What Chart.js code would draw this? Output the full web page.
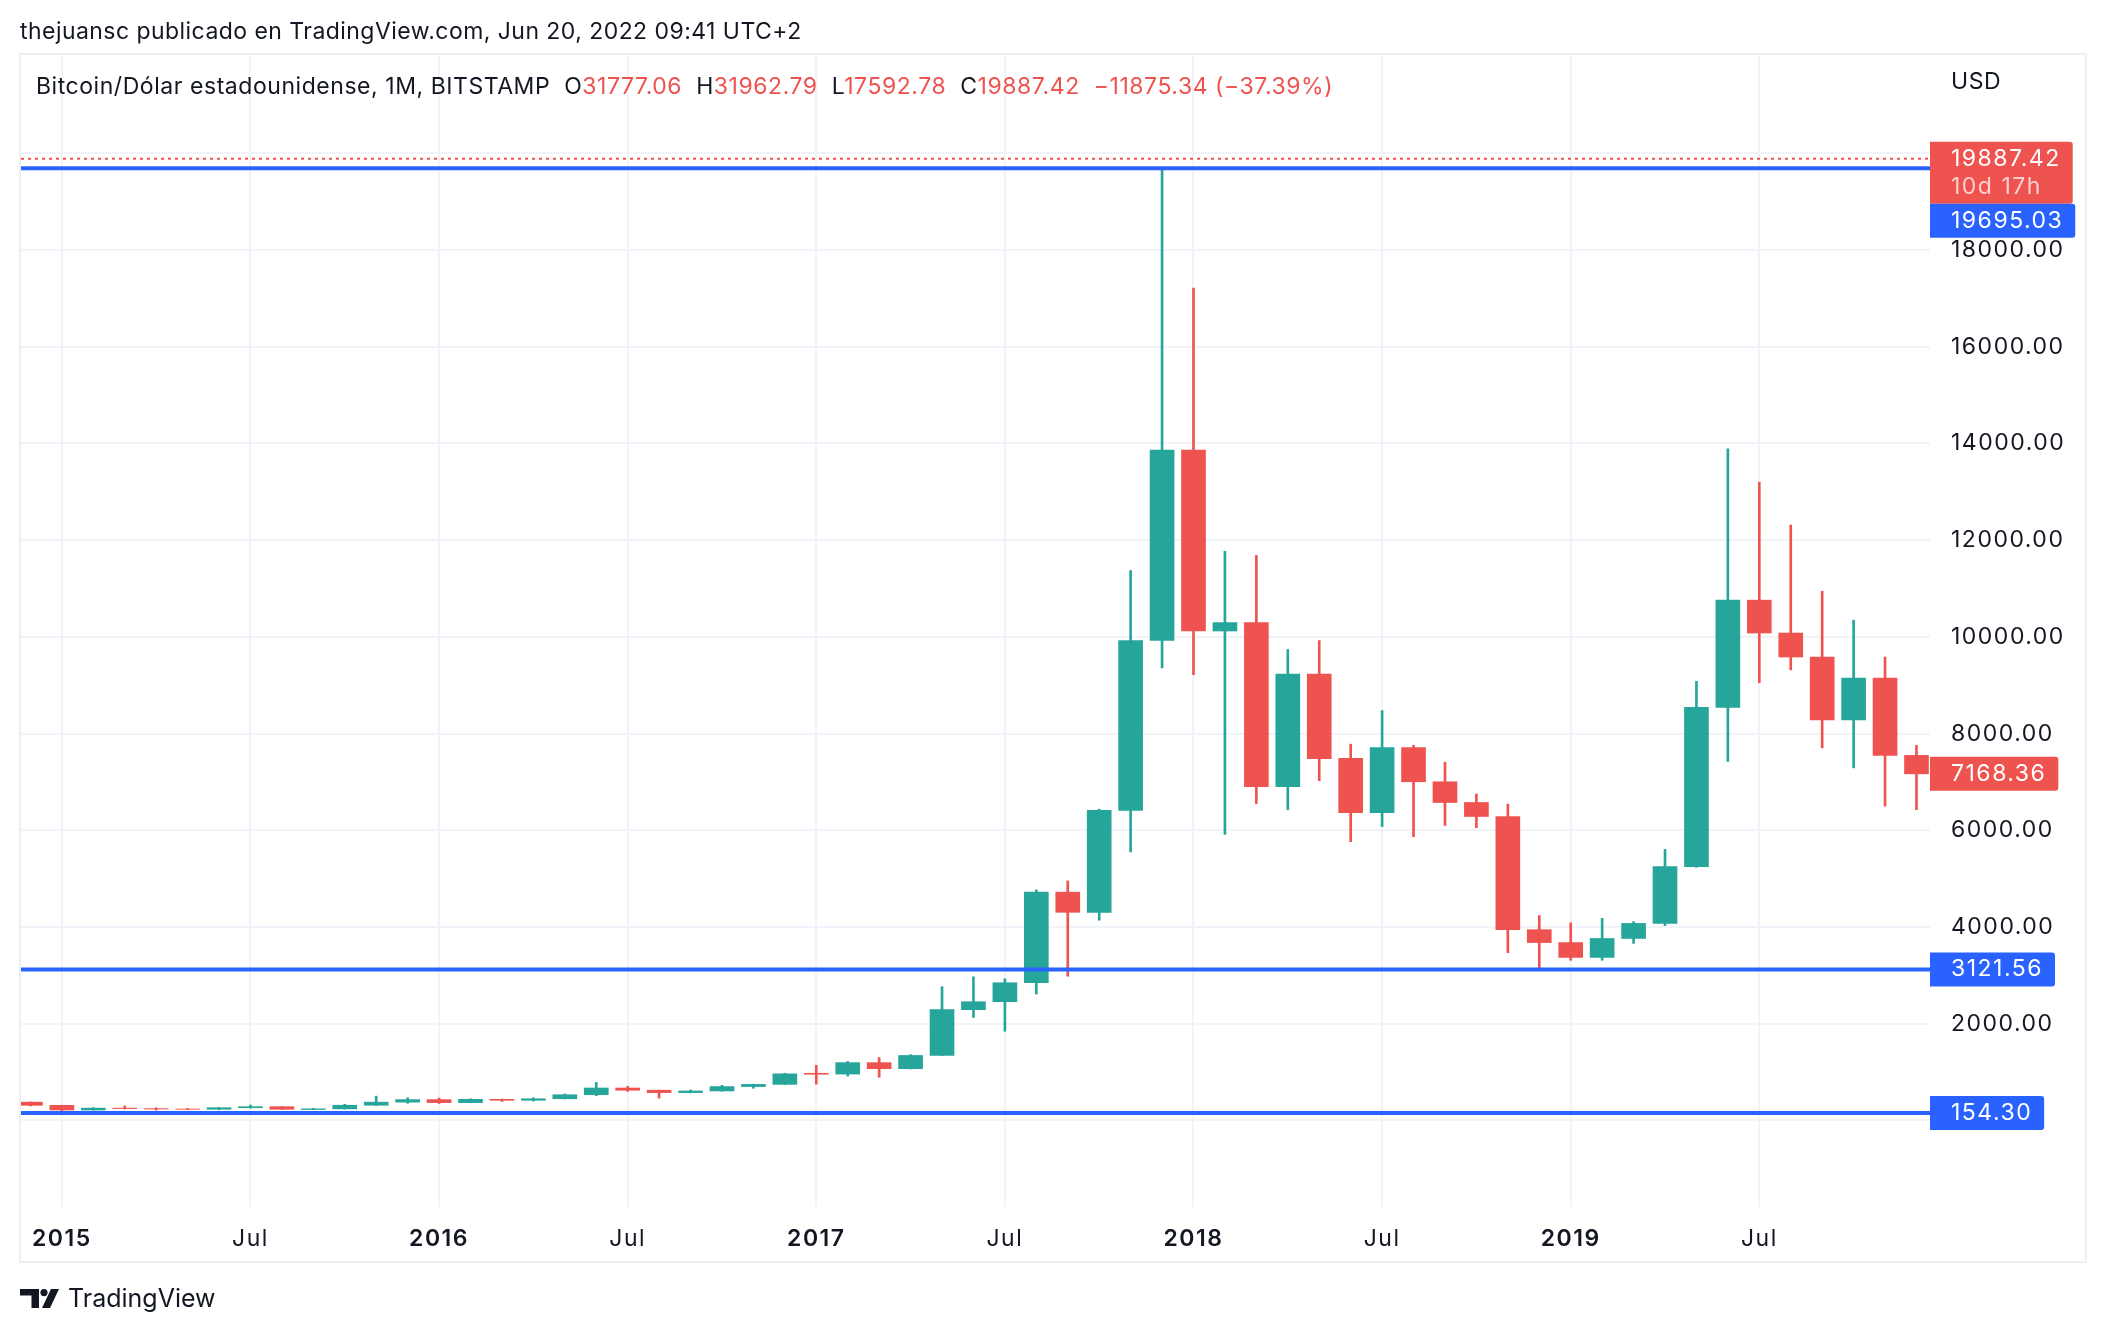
<!DOCTYPE html>
<html lang="es">
<head>
<meta charset="UTF-8">
<title>Bitcoin/Dólar estadounidense, 1M, BITSTAMP</title>
<script src="https://cdn.jsdelivr.net/npm/chart.js@4.4.1/dist/chart.umd.min.js"></script>
<style>
  html, body { margin: 0; padding: 0; background: #fff; }
  body { width: 2106px; height: 1334px; position: relative; overflow: hidden;
         font-family: Inter, "Noto Sans", sans-serif; color: #131722; }
  #chart { position: absolute; left: 0; top: 0; }
  .frame { position: absolute; left: 19px; top: 53px; width: 2064px; height: 1206px;
           border: 2px solid #eceff4; pointer-events: none; }
  .header { position: absolute; left: 20px; top: 15px; font-size: 23px; line-height: 32px;
            letter-spacing: 0.45px; white-space: pre; }
  .legend { position: absolute; left: 36px; top: 70px; font-size: 23px; line-height: 32px;
            letter-spacing: 0.55px; white-space: pre; }
  .legend .k { margin-left: 14px; }
  .legend .v { color: #ef5350; }
  .legend .chg { color: #ef5350; margin-left: 14px; }
  .usd { position: absolute; left: 1951px; top: 65px; font-size: 23px; line-height: 32px; letter-spacing: 0.6px; }
  .logo { position: absolute; left: 20px; top: 1281px; height: 34px; display: flex; align-items: center;
          font-size: 25px; color: #131722; }
  .logo svg { margin-right: 9px; }
</style>
</head>
<body>
<canvas id="chart" width="2106" height="1334"></canvas>
<div class="frame"></div>
<div class="header">thejuansc publicado en TradingView.com, Jun 20, 2022 09:41 UTC+2</div>
<div class="legend" id="legend"></div>
<div class="usd">USD</div>
<div class="logo">
  <svg width="39" height="19" viewBox="0 0 39 19">
    <path d="M19 19H11.5V6.5H0V0h19z" fill="#131722"/>
    <circle cx="24" cy="3.6" r="3.6" fill="#131722"/>
    <path d="M30 19h-8L31 0h8z" fill="#131722"/>
  </svg>
  <span>TradingView</span>
</div>
<script>
// monthly candles, Dec 2014 .. Dec 2019
const months = [
  '2014-12',
  '2015-01','2015-02','2015-03','2015-04','2015-05','2015-06','2015-07','2015-08','2015-09','2015-10','2015-11','2015-12',
  '2016-01','2016-02','2016-03','2016-04','2016-05','2016-06','2016-07','2016-08','2016-09','2016-10','2016-11','2016-12',
  '2017-01','2017-02','2017-03','2017-04','2017-05','2017-06','2017-07','2017-08','2017-09','2017-10','2017-11','2017-12',
  '2018-01','2018-02','2018-03','2018-04','2018-05','2018-06','2018-07','2018-08','2018-09','2018-10','2018-11','2018-12',
  '2019-01','2019-02','2019-03','2019-04','2019-05','2019-06','2019-07','2019-08','2019-09','2019-10','2019-11','2019-12'
];
const opens = [
  378,
  312, 215, 254, 244, 236, 230, 263, 284, 225, 238, 314, 377,
  430, 368, 436, 416, 448, 531, 670, 624, 575, 609, 700, 745,
  975, 958, 1195, 1070, 1343, 2290, 2455, 2847, 4721, 4304, 6413, 9925,
  13866, 10122, 10296, 6900, 9229, 7491, 6367, 7711, 7004, 6575, 6286, 3944,
  3678, 3371, 3763, 4074, 5250, 8541, 10760, 10080, 9584, 8282, 9148, 7550
];
const highs = [
  382,
  315, 265, 300, 261, 247, 268, 318, 285, 248, 333, 502, 468,
  462, 446, 440, 468, 548, 786, 704, 626, 628, 725, 750, 975,
  1140, 1219, 1300, 1360, 2764, 2970, 2929, 4767, 4953, 6436, 11374, 19666,
  17215, 11768, 11686, 9739, 9925, 7781, 8476, 7758, 7410, 6749, 6541, 4237,
  4089, 4178, 4111, 5605, 9081, 13888, 13200, 12313, 10945, 10346, 9584, 7757
];
const lows = [
  298,
  152.4, 212, 236, 214, 227, 220, 253, 225, 222, 235, 308, 355,
  350, 366, 393, 400, 443, 510, 600, 460, 570, 604, 665, 742,
  750, 917, 893, 1065, 1340, 2130, 1844, 2612, 2982, 4141, 5555, 9357,
  9218, 5915, 6552, 6425, 7027, 5764, 6077, 5868, 6100, 6054, 3469, 3122,
  3312, 3312, 3660, 4030, 5235, 7424, 9051, 9318, 7705, 7291, 6500, 6426
];
const closes = [
  312,
  215, 254, 244, 236, 230, 263, 284, 230, 240, 314, 377, 430,
  368, 436, 416, 448, 531, 670, 624, 575, 609, 700, 745, 963,
  955, 1195, 1070, 1343, 2290, 2455, 2847, 4721, 4304, 6413, 9925, 13866,
  10122, 10296, 6900, 9229, 7479, 6367, 7711, 7004, 6575, 6286, 3944, 3678,
  3371, 3763, 4074, 5250, 8541, 10760, 10080, 9584, 8282, 9148, 7550, 7168.36
];

// axis ticks
const tickMonths = ['2015-01','2015-07','2016-01','2016-07','2017-01','2017-07','2018-01','2018-07','2019-01','2019-07'];
const tickLabels = ['2015','Jul','2016','Jul','2017','Jul','2018','Jul','2019','Jul'];
const priceTicks = [0, 2000, 4000, 6000, 8000, 10000, 12000, 14000, 16000, 18000, 20000];
const priceTickLabels = ['', '2000.00', '4000.00', '6000.00', '8000.00', '10000.00', '12000.00', '14000.00', '16000.00', '18000.00', ''];

// horizontal lines drawn on the chart
const levelLines = [19695.03, 3121.56, 154.30];
const lastPrice = 19887.42;
const lastPriceCountdown = '10d 17h';

// header legend
const legendKeys = ['O', 'H', 'L', 'C'];
const legendValues = ['31777.06', '31962.79', '17592.78', '19887.42'];
const legendChange = '\u221211875.34 (\u221237.39%)';

const UP = '#26a69a', DOWN = '#ef5350', BLUE = '#2962ff', GRID = '#f0f3fa', TEXT = '#131722';
const FONT = 'Inter, "Noto Sans", sans-serif';

// legend
const lg = document.getElementById('legend');
lg.appendChild(document.createTextNode('Bitcoin/Dólar estadounidense, 1M, BITSTAMP'));
legendKeys.forEach((k, i) => {
  const ks = document.createElement('span'); ks.className = 'k'; ks.textContent = k; lg.appendChild(ks);
  const vs = document.createElement('span'); vs.className = 'v'; vs.textContent = legendValues[i]; lg.appendChild(vs);
});
const cs = document.createElement('span'); cs.className = 'chg'; cs.textContent = legendChange; lg.appendChild(cs);

const candleColors = opens.map((o, i) => closes[i] >= o ? UP : DOWN);
const bodies = months.map((m, i) => ({ x: i, y: [opens[i], closes[i]] }));
const wicks = months.map((m, i) => ({ x: i, y: [lows[i], highs[i]] }));

function labelBox(ctx, left, top, w, h, r, color) {
  ctx.fillStyle = color;
  ctx.beginPath();
  ctx.moveTo(left, top);
  ctx.lineTo(left + w - r, top);
  ctx.quadraticCurveTo(left + w, top, left + w, top + r);
  ctx.lineTo(left + w, top + h - r);
  ctx.quadraticCurveTo(left + w, top + h, left + w - r, top + h);
  ctx.lineTo(left, top + h);
  ctx.closePath();
  ctx.fill();
}

const levelsPlugin = {
  id: 'levels',
  beforeDraw(chart) {
    chart.ctx.letterSpacing = '1.5px';
  },
  afterDatasetsDraw(chart) {
    const { ctx, chartArea: a, scales: { y } } = chart;
    ctx.save();
    ctx.beginPath();
    ctx.rect(a.left, a.top, a.right - a.left, a.bottom - a.top);
    ctx.clip();
    // current price, dotted
    ctx.strokeStyle = DOWN;
    ctx.lineWidth = 2;
    ctx.setLineDash([3, 4]);
    const py = y.getPixelForValue(lastPrice);
    ctx.beginPath(); ctx.moveTo(a.left, py); ctx.lineTo(a.right, py); ctx.stroke();
    ctx.setLineDash([]);
    ctx.strokeStyle = BLUE;
    ctx.lineWidth = 4;
    levelLines.forEach(v => {
      const ly = y.getPixelForValue(v);
      ctx.beginPath(); ctx.moveTo(a.left, ly); ctx.lineTo(a.right, ly); ctx.stroke();
    });
    ctx.restore();
  },
  afterDraw(chart) {
    const { ctx, chartArea: a, scales: { y } } = chart;
    const last = closes.length - 1;
    const labels = [
      { value: lastPrice, lines: [lastPrice.toFixed(2), lastPriceCountdown], color: DOWN },
      { value: closes[last], lines: [closes[last].toFixed(2)], color: candleColors[last] },
      ...levelLines.map(v => ({ value: v, lines: [v.toFixed(2)], color: BLUE }))
    ].sort((p, q) => q.value - p.value);
    ctx.save();
    ctx.letterSpacing = '1.5px';
    ctx.font = '23px ' + FONT;
    ctx.textBaseline = 'middle';
    let prevBottom = -Infinity;
    labels.forEach(l => {
      const h = 34 + 28 * (l.lines.length - 1);
      let top = y.getPixelForValue(l.value) - 17;
      if (top < prevBottom) top = prevBottom;
      const tw = ctx.measureText(l.lines[0]).width;
      labelBox(ctx, a.right, top, 21 + tw + 12, h, 3, l.color);
      l.lines.forEach((t, k) => {
        ctx.fillStyle = k === 0 ? '#ffffff' : 'rgba(255,255,255,0.72)';
        ctx.fillText(t, a.right + 21, top + 17 + 28 * k);
      });
      prevBottom = top + h;
    });
    ctx.restore();
  }
};

new Chart(document.getElementById('chart'), {
  type: 'bar',
  data: {
    datasets: [
      { label: 'body', data: bodies, backgroundColor: candleColors, barThickness: 24, grouped: false },
      { label: 'wick', data: wicks, backgroundColor: candleColors, barThickness: 2, grouped: false }
    ]
  },
  options: {
    responsive: false,
    animation: false,
    layout: { padding: { left: 21, top: 55, right: 20, bottom: 72 } },
    plugins: { legend: { display: false }, tooltip: { enabled: false } },
    scales: {
      x: {
        type: 'linear',
        min: -0.30,
        max: 60.43,
        offset: false,
        border: { display: false },
        grid: { color: GRID, lineWidth: 2, drawTicks: false, offset: false },
        afterBuildTicks: s => { s.ticks = tickMonths.map(m => ({ value: months.indexOf(m) })); },
        afterFit: s => { s.height = 55; },
        ticks: {
          autoSkip: false,
          maxRotation: 0,
          padding: 18,
          color: TEXT,
          font: c => ({ family: FONT, size: 23, weight: /^\d/.test(tickLabels[c.index] || '') ? '600' : '400' }),
          callback: (v, i) => tickLabels[i]
        }
      },
      y: {
        position: 'right',
        min: -1791,
        max: 22035,
        border: { display: false },
        grid: { color: GRID, lineWidth: 2, drawTicks: false },
        afterBuildTicks: s => { s.ticks = priceTicks.map(v => ({ value: v })); },
        afterFit: s => { s.width = 156; },
        ticks: {
          padding: 21,
          color: TEXT,
          font: { family: FONT, size: 23 },
          callback: (v, i) => priceTickLabels[i]
        }
      }
    }
  },
  plugins: [levelsPlugin]
});
</script>
</body>
</html>
